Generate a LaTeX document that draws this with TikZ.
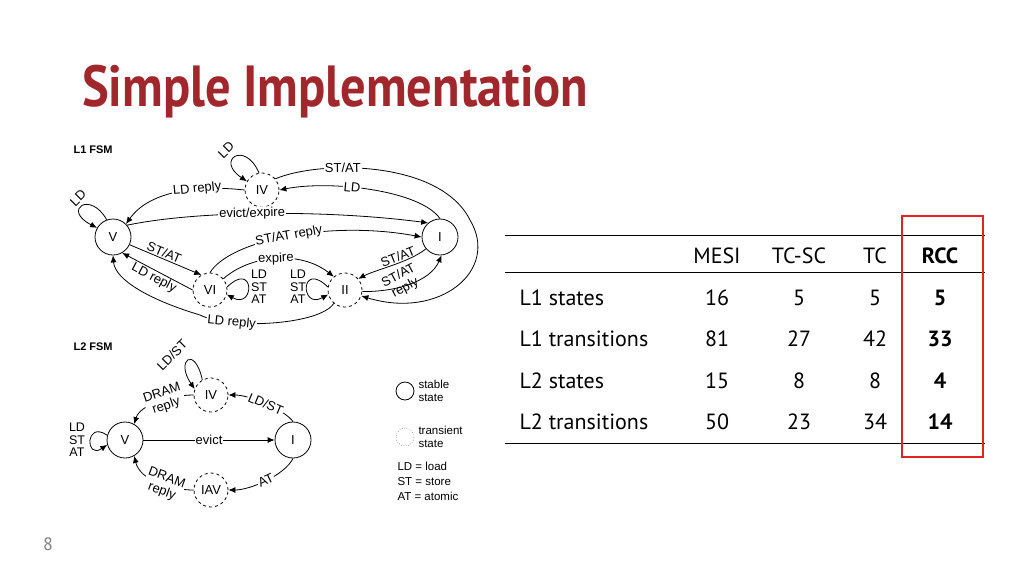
\documentclass[tikz,border=0pt]{standalone}
\usepackage{fontspec}
\setmainfont{PT Sans}
\newfontfamily\fsmfont{Liberation Sans}
\usetikzlibrary{arrows.meta}
\definecolor{titlered}{HTML}{A0282D}
\definecolor{boxred}{HTML}{E32227}
\begin{document}
\begin{tikzpicture}[x=1pt,y=-1pt,
    stable/.style={circle, draw, thick, minimum size=36pt, inner sep=0pt, font=\fsmfont\fontsize{13}{14}\selectfont},
    transient/.style={stable, dashed, minimum size=34pt},
    edge/.style={draw, thick, -{Latex[length=7pt,width=6pt]}},
    lbl/.style={font=\fsmfont\fontsize{13}{14}\selectfont, fill=white, inner sep=1pt, sloped},
    free/.style={font=\fsmfont\fontsize{13}{14}\selectfont, inner sep=1pt},
    stack/.style={font=\fsmfont\fontsize{12.5}{12.5}\selectfont, align=center, inner sep=0pt},
    cell/.style={font=\fontsize{22}{24}\selectfont, anchor=base},
    rowname/.style={cell, anchor=base west}
  ]
\useasboundingbox (0,0) rectangle (1024,576);
\node[font=\bfseries\fontsize{58}{60}\selectfont, text=titlered, anchor=base west, xscale=0.87, inner sep=0pt] (title) at (82,106) {Simple Implementation};
\node[text=gray, font=\fontsize{18}{20}\selectfont] (page) at (48,544) {8};

% L1 FSM
\node[font=\fsmfont\bfseries\fontsize{11}{12}\selectfont, anchor=west] (l1) at (70,150) {L1 FSM};
\node[stable] (V1) at (113,237) {V};
\node[transient] (IV1) at (262,190) {IV};
\node[stable] (I1) at (440,237) {I};
\node[transient] (VI1) at (210,290) {VI};
\node[transient] (II1) at (345,290) {II};

\draw[edge] (V1.110) .. controls (90,190) and (62,210) .. (V1.150);
\node[free, rotate=45] (v1ld) at (78,198) {LD};
\draw[edge] (IV1.100) .. controls (245,140) and (215,160) .. (IV1.150);
\node[free, rotate=45] (iv1ld) at (226,150) {LD};
\draw[edge] (IV1.west) .. controls (200,185) and (150,190) .. node[lbl, pos=0.35] {LD reply} (V1.45);
\draw[edge] (I1.north) .. controls (420,190) and (330,180) .. node[lbl, pos=0.6] {LD} (IV1.east);
\draw[edge] (IV1.40) .. controls (320,160) and (440,160) .. node[lbl, pos=0.35] {ST/AT} (470,220) .. controls (500,270) and (440,320) .. (II1.-20);
\draw[edge] (V1.40) .. controls (200,210) and (330,210) .. node[lbl, pos=0.45] {evict/expire} (I1.130);
\draw[edge] (VI1.north) .. controls (230,240) and (330,220) .. node[lbl, pos=0.5] {ST/AT reply} (I1.west);
\draw[edge] (V1.-25) -- node[lbl, pos=0.45, above, fill=none] {ST/AT} (VI1.120);
\draw[edge] (VI1.180) -- node[lbl, pos=0.5, below, fill=none] {LD reply} (V1.-60);
\draw[edge] (II1.230) .. controls (320,325) and (230,330) .. node[lbl, pos=0.75] {LD reply} (200,315) .. controls (150,300) and (115,280) .. (V1.south);
\draw[edge] (VI1.40) .. controls (250,255) and (300,250) .. node[lbl, pos=0.5] {expire} (II1.130);
\draw[edge] (VI1.10) .. controls (255,260) and (255,310) .. (VI1.-15);
\node[stack] (vistack) at (259,287) {LD\\ST\\AT};
\draw[edge] (II1.170) .. controls (300,260) and (300,310) .. (II1.195);
\node[stack] (iistack) at (298,287) {LD\\ST\\AT};
\draw[edge] (I1.-140) .. controls (410,262) and (375,270) .. node[lbl, pos=0.4, above, fill=none] {ST/AT} (II1.40);
\draw[edge] (II1.-5) .. controls (395,292) and (430,282) .. (I1.-85);
\node[free, rotate=28, align=center] (iistat) at (402,282) {ST/AT\\reply};

% L2 FSM
\node[font=\fsmfont\bfseries\fontsize{11}{12}\selectfont, anchor=west] (l2) at (70,347) {L2 FSM};
\node[stable] (V2) at (125,440) {V};
\node[transient] (IV2) at (211,395) {IV};
\node[stable] (I2) at (293,440) {I};
\node[transient] (IAV2) at (211,490) {IAV};

\draw[edge] (IV2.120) .. controls (195,345) and (175,360) .. (IV2.160);
\node[free, rotate=45] (iv2ld) at (172,355) {LD/ST};
\draw[edge] (IV2.west) .. controls (170,395) and (140,405) .. node[lbl, pos=0.4, align=center] {DRAM\\reply} (V2.60);
\draw[edge] (I2.north) .. controls (285,410) and (250,395) .. node[lbl, pos=0.5] {LD/ST} (IV2.east);
\draw[edge] (V2.east) -- node[lbl] {evict} (I2.west);
\draw[edge] (I2.south) .. controls (285,475) and (250,490) .. node[lbl, pos=0.5] {AT} (IAV2.east);
\draw[edge] (IAV2.west) .. controls (170,490) and (140,480) .. node[lbl, pos=0.4, align=center] {DRAM\\reply} (V2.-60);
\draw[edge] (V2.165) .. controls (85,420) and (85,460) .. (V2.195);
\node[stack] (v2stack) at (77,440) {LD\\ST\\AT};

% legend
\node[circle, draw, thick, minimum size=18pt, inner sep=0pt] (legstable) at (405,391) {};
\node[font=\fsmfont\fontsize{11.5}{13}\selectfont, align=left, anchor=west] (legstabletext) at (415,391) {stable\\state};
\node[circle, draw, dotted, minimum size=18pt, inner sep=0pt] (legtrans) at (405,437) {};
\node[font=\fsmfont\fontsize{11.5}{13}\selectfont, align=left, anchor=west] (legtranstext) at (415,437) {transient\\state};
\node[font=\fsmfont\fontsize{11.5}{15}\selectfont, align=left, anchor=north west] (legkey) at (394,459) {LD = load\\ST = store\\AT = atomic};

% table
\draw[thick] (505,235) coordinate (tl) -- (985,235) coordinate (tr);
\draw (505,272) coordinate (ml) -- (985,272) coordinate (mr);
\draw[thick] (505,443) coordinate (bl) -- (985,443) coordinate (br);
\node[cell] (h1) at (717,263) {MESI};
\node[cell] (h2) at (799,263) {TC-SC};
\node[cell] (h3) at (875,263) {TC};
\node[cell, font=\bfseries\fontsize{22}{24}\selectfont] (h4) at (940,263) {RCC};
\foreach \name/\a/\b/\c/\d [count=\i] in {L1 states/16/5/5/5, L1 transitions/81/27/42/33, L2 states/15/8/8/4, L2 transitions/50/23/34/14} {
  \pgfmathsetmacro\yy{305+41.5*(\i-1)}
  \node[rowname] (r\i) at (516,\yy) {\name};
  \node[cell] (ra\i) at (717,\yy) {\a};
  \node[cell] (rb\i) at (799,\yy) {\b};
  \node[cell] (rc\i) at (875,\yy) {\c};
  \node[cell, font=\bfseries\fontsize{22}{24}\selectfont] (rd\i) at (940,\yy) {\d};
}
\draw[boxred, line width=2.5pt] (902,216) rectangle (983,457);
\end{tikzpicture}
\end{document}
